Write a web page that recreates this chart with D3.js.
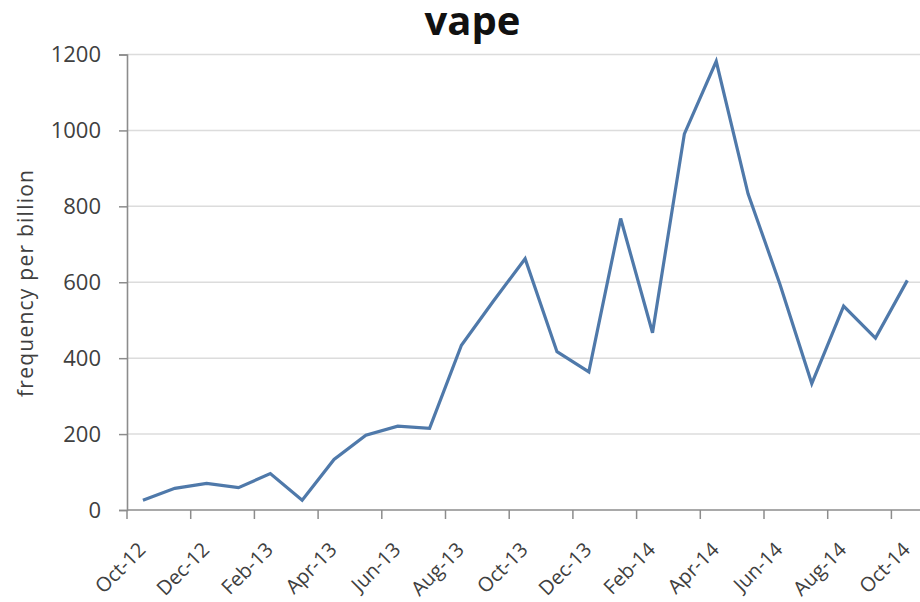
<!DOCTYPE html>
<html>
<head>
<meta charset="utf-8">
<script src="https://cdn.jsdelivr.net/npm/d3@7"></script>
<style>
  html, body { margin: 0; padding: 0; background: #ffffff; }
  svg { display: block; }
  text { font-family: "Open Sans", "DejaVu Sans", sans-serif; }
</style>
</head>
<body>
<svg id="chart" width="920" height="602"></svg>
<script>
const months = ["Oct-12","Nov-12","Dec-12","Jan-13","Feb-13","Mar-13","Apr-13","May-13","Jun-13","Jul-13","Aug-13","Sep-13","Oct-13","Nov-13","Dec-13","Jan-14","Feb-14","Mar-14","Apr-14","May-14","Jun-14","Jul-14","Aug-14","Sep-14","Oct-14"];
const values = [26,57,70,59,96,26,133,197,221,215,434,550,662,417,364,768,467,991,1182,833,595,333,537,453,605];
const yTicks = [0,200,400,600,800,1000,1200];
const xTickLabels = ["Oct-12","Dec-12","Feb-13","Apr-13","Jun-13","Aug-13","Oct-13","Dec-13","Feb-14","Apr-14","Jun-14","Aug-14","Oct-14"];
const title = "vape";
const yLabel = "frequency per billion";

(function () {
const svg = d3.select("#chart");
const plotLeft = 127, plotTop = 54.5, plotBottom = 510, slot = 31.85;
const plotRight = plotLeft + months.length * slot;

const x = d3.scaleBand().domain(months).range([plotLeft, plotRight]).padding(0);
const y = d3.scaleLinear().domain([0, 1200]).range([plotBottom, plotTop]);

// gridlines
svg.append("g").selectAll("line").data(yTicks.filter(d => d > 0)).join("line")
  .attr("x1", plotLeft).attr("x2", 920)
  .attr("y1", d => y(d)).attr("y2", d => y(d))
  .attr("stroke", "#dcdcdc").attr("stroke-width", 1.5);

// y axis
const yAxis = svg.append("g").attr("transform", `translate(${plotLeft},0)`)
  .call(d3.axisLeft(y).tickValues(yTicks).tickSize(8).tickPadding(18).tickFormat(d3.format("d")));
yAxis.select(".domain").attr("stroke", "#8c8c8c").attr("stroke-width", 1.6);
yAxis.selectAll(".tick line").attr("stroke", "#8c8c8c").attr("stroke-width", 1.5);
yAxis.selectAll(".tick text").attr("font-size", 22).attr("fill", "#404040")
  .attr("font-family", "Open Sans, sans-serif");

// x axis line
svg.append("line").attr("x1", plotLeft).attr("x2", 920).attr("y1", plotBottom).attr("y2", plotBottom)
  .attr("stroke", "#8c8c8c").attr("stroke-width", 1.6);

// x ticks every 2 months at band starts
const xg = svg.append("g");
xg.selectAll("line").data(xTickLabels).join("line")
  .attr("x1", d => x(d)).attr("x2", d => x(d))
  .attr("y1", plotBottom).attr("y2", plotBottom + 9)
  .attr("stroke", "#8c8c8c").attr("stroke-width", 1.5);
xg.selectAll("text").data(xTickLabels).join("text")
  .attr("transform", d => `translate(${x(d) + x.bandwidth() / 2 + 4},${plotBottom + 41}) rotate(-45)`)
  .attr("text-anchor", "end")
  .attr("font-size", 20).attr("fill", "#404040")
  .text(d => d);

// line
const line = d3.line()
  .x((d, i) => x(months[i]) + x.bandwidth() / 2)
  .y(d => y(d));
svg.append("path").datum(values)
  .attr("d", line).attr("fill", "none")
  .attr("stroke", "#4f79aa").attr("stroke-width", 3.2)
  .attr("stroke-linejoin", "miter");

// title
svg.append("text").attr("x", 472.5).attr("y", 35)
  .attr("text-anchor", "middle").attr("font-weight", "bold")
  .attr("font-size", 40).attr("fill", "#111").text(title);

// y label
svg.append("text")
  .attr("transform", `translate(33,283.5) rotate(-90)`)
  .attr("text-anchor", "middle").attr("font-size", 21).attr("fill", "#404040")
  .attr("textLength", 227).attr("lengthAdjust", "spacing")
  .text(yLabel);
})();
</script>
</body>
</html>
